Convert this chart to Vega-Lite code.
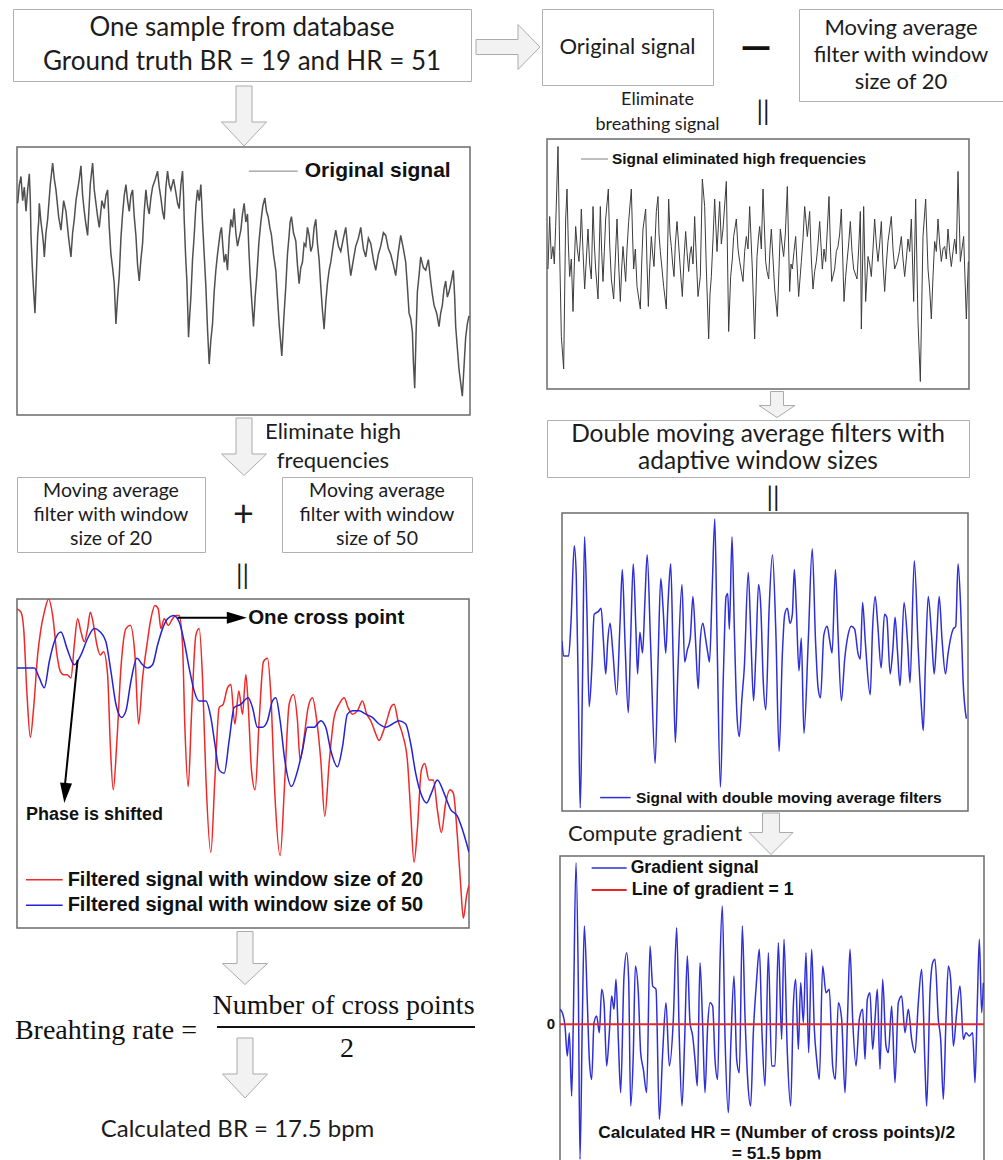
{
  "$schema": "https://vega.github.io/schema/vega-lite/v6.json",
  "padding": 0,
  "background": "white",
  "usermeta": {"embedOptions": {"actions": false}},
  "config": {"view": {"stroke": null}, "concat": {"spacing": 0}},
  "spacing": 0,
  "datasets": {
    "orig": [{"t":2,"v":79},{"t":7,"v":86},{"t":12,"v":89},{"t":17,"v":80},{"t":22,"v":85},{"t":27,"v":76},{"t":32,"v":84},{"t":37,"v":90},{"t":40,"v":80},{"t":42,"v":67},{"t":46,"v":55},{"t":50,"v":46},{"t":52,"v":42},{"t":54,"v":38},{"t":58,"v":52},{"t":62,"v":67},{"t":65,"v":72},{"t":67,"v":79},{"t":72,"v":72},{"t":77,"v":67},{"t":80,"v":63},{"t":82,"v":59},{"t":87,"v":68},{"t":92,"v":73},{"t":100,"v":86},{"t":107,"v":94},{"t":112,"v":88},{"t":117,"v":84},{"t":125,"v":74},{"t":132,"v":69},{"t":140,"v":80},{"t":147,"v":76},{"t":155,"v":66},{"t":162,"v":59},{"t":167,"v":68},{"t":172,"v":73},{"t":177,"v":80},{"t":182,"v":84},{"t":187,"v":88},{"t":192,"v":93},{"t":197,"v":82},{"t":202,"v":76},{"t":207,"v":71},{"t":212,"v":67},{"t":220,"v":86},{"t":227,"v":94},{"t":232,"v":84},{"t":237,"v":79},{"t":242,"v":74},{"t":247,"v":70},{"t":255,"v":80},{"t":262,"v":77},{"t":267,"v":82},{"t":272,"v":84},{"t":277,"v":70},{"t":282,"v":60},{"t":287,"v":55},{"t":292,"v":49},{"t":295,"v":40},{"t":297,"v":34},{"t":302,"v":44},{"t":307,"v":52},{"t":312,"v":66},{"t":317,"v":75},{"t":322,"v":82},{"t":327,"v":86},{"t":332,"v":80},{"t":337,"v":76},{"t":342,"v":82},{"t":347,"v":84},{"t":352,"v":74},{"t":357,"v":67},{"t":362,"v":56},{"t":367,"v":50},{"t":372,"v":58},{"t":377,"v":64},{"t":382,"v":76},{"t":387,"v":84},{"t":392,"v":78},{"t":397,"v":75},{"t":402,"v":81},{"t":407,"v":85},{"t":415,"v":88},{"t":422,"v":91},{"t":427,"v":85},{"t":432,"v":81},{"t":437,"v":76},{"t":442,"v":73},{"t":447,"v":85},{"t":452,"v":91},{"t":457,"v":86},{"t":462,"v":84},{"t":470,"v":88},{"t":477,"v":83},{"t":482,"v":79},{"t":487,"v":77},{"t":492,"v":86},{"t":497,"v":91},{"t":500,"v":82},{"t":502,"v":73},{"t":506,"v":60},{"t":510,"v":50},{"t":513,"v":38},{"t":515,"v":29},{"t":518,"v":36},{"t":522,"v":44},{"t":527,"v":58},{"t":532,"v":67},{"t":537,"v":78},{"t":542,"v":84},{"t":547,"v":80},{"t":552,"v":86},{"t":555,"v":78},{"t":557,"v":72},{"t":562,"v":60},{"t":567,"v":48},{"t":572,"v":32},{"t":577,"v":19},{"t":582,"v":28},{"t":587,"v":34},{"t":592,"v":46},{"t":597,"v":54},{"t":602,"v":60},{"t":607,"v":65},{"t":610,"v":68},{"t":614,"v":70},{"t":618,"v":63},{"t":622,"v":57},{"t":627,"v":60},{"t":632,"v":54},{"t":637,"v":66},{"t":642,"v":73},{"t":647,"v":70},{"t":652,"v":77},{"t":657,"v":68},{"t":662,"v":63},{"t":667,"v":66},{"t":672,"v":69},{"t":677,"v":75},{"t":682,"v":79},{"t":687,"v":72},{"t":692,"v":75},{"t":696,"v":62},{"t":700,"v":52},{"t":705,"v":42},{"t":710,"v":33},{"t":715,"v":44},{"t":720,"v":52},{"t":726,"v":64},{"t":732,"v":72},{"t":738,"v":78},{"t":744,"v":81},{"t":749,"v":76},{"t":754,"v":74},{"t":759,"v":70},{"t":764,"v":67},{"t":770,"v":60},{"t":777,"v":54},{"t":782,"v":44},{"t":787,"v":34},{"t":791,"v":28},{"t":795,"v":22},{"t":801,"v":36},{"t":807,"v":48},{"t":812,"v":60},{"t":817,"v":67},{"t":820,"v":72},{"t":824,"v":74},{"t":830,"v":68},{"t":837,"v":65},{"t":842,"v":56},{"t":847,"v":49},{"t":852,"v":55},{"t":857,"v":57},{"t":862,"v":64},{"t":867,"v":63},{"t":872,"v":70},{"t":877,"v":67},{"t":882,"v":61},{"t":887,"v":63},{"t":892,"v":70},{"t":897,"v":73},{"t":902,"v":64},{"t":907,"v":58},{"t":912,"v":48},{"t":917,"v":39},{"t":920,"v":35},{"t":922,"v":32},{"t":927,"v":42},{"t":932,"v":49},{"t":937,"v":54},{"t":942,"v":57},{"t":950,"v":64},{"t":957,"v":69},{"t":965,"v":63},{"t":972,"v":61},{"t":980,"v":66},{"t":987,"v":70},{"t":995,"v":60},{"t":1002,"v":52},{"t":1010,"v":58},{"t":1017,"v":63},{"t":1025,"v":66},{"t":1032,"v":70},{"t":1040,"v":62},{"t":1047,"v":59},{"t":1055,"v":66},{"t":1062,"v":64},{"t":1070,"v":58},{"t":1077,"v":54},{"t":1085,"v":60},{"t":1092,"v":63},{"t":1100,"v":68},{"t":1107,"v":67},{"t":1115,"v":62},{"t":1122,"v":60},{"t":1130,"v":56},{"t":1137,"v":52},{"t":1145,"v":61},{"t":1152,"v":67},{"t":1160,"v":62},{"t":1167,"v":57},{"t":1172,"v":48},{"t":1177,"v":38},{"t":1182,"v":36},{"t":1187,"v":31},{"t":1190,"v":20},{"t":1194,"v":10},{"t":1198,"v":30},{"t":1202,"v":46},{"t":1207,"v":52},{"t":1212,"v":59},{"t":1220,"v":55},{"t":1227,"v":54},{"t":1235,"v":58},{"t":1242,"v":50},{"t":1247,"v":45},{"t":1252,"v":41},{"t":1260,"v":38},{"t":1267,"v":33},{"t":1272,"v":38},{"t":1277,"v":41},{"t":1282,"v":47},{"t":1287,"v":50},{"t":1292,"v":44},{"t":1297,"v":46},{"t":1304,"v":50},{"t":1310,"v":54},{"t":1314,"v":44},{"t":1317,"v":33},{"t":1322,"v":25},{"t":1327,"v":17},{"t":1332,"v":12},{"t":1337,"v":7},{"t":1342,"v":18},{"t":1347,"v":29},{"t":1352,"v":34},{"t":1357,"v":37}],
    "eh": [{"t":3,"v":48},{"t":8,"v":69},{"t":13,"v":52},{"t":18,"v":57},{"t":22,"v":50},{"t":26,"v":65},{"t":33,"v":97},{"t":38,"v":55},{"t":43,"v":21},{"t":50,"v":8},{"t":56,"v":68},{"t":60,"v":80},{"t":64,"v":58},{"t":68,"v":45},{"t":73,"v":52},{"t":78,"v":31},{"t":82,"v":50},{"t":86,"v":65},{"t":91,"v":56},{"t":96,"v":51},{"t":100,"v":60},{"t":103,"v":72},{"t":108,"v":55},{"t":113,"v":40},{"t":118,"v":52},{"t":123,"v":64},{"t":128,"v":50},{"t":133,"v":44},{"t":138,"v":73},{"t":142,"v":58},{"t":146,"v":48},{"t":153,"v":36},{"t":160,"v":73},{"t":164,"v":55},{"t":168,"v":43},{"t":172,"v":55},{"t":176,"v":68},{"t":184,"v":80},{"t":188,"v":58},{"t":193,"v":44},{"t":200,"v":36},{"t":205,"v":52},{"t":210,"v":68},{"t":215,"v":50},{"t":220,"v":35},{"t":224,"v":48},{"t":228,"v":57},{"t":236,"v":43},{"t":240,"v":56},{"t":245,"v":67},{"t":253,"v":80},{"t":257,"v":60},{"t":260,"v":48},{"t":265,"v":56},{"t":270,"v":41},{"t":280,"v":32},{"t":284,"v":50},{"t":288,"v":64},{"t":296,"v":72},{"t":300,"v":50},{"t":304,"v":33},{"t":308,"v":48},{"t":313,"v":61},{"t":317,"v":54},{"t":321,"v":49},{"t":328,"v":71},{"t":333,"v":77},{"t":336,"v":62},{"t":340,"v":55},{"t":345,"v":48},{"t":350,"v":41},{"t":358,"v":32},{"t":365,"v":76},{"t":369,"v":62},{"t":373,"v":57},{"t":377,"v":50},{"t":381,"v":45},{"t":385,"v":58},{"t":390,"v":67},{"t":398,"v":52},{"t":402,"v":44},{"t":406,"v":37},{"t":411,"v":52},{"t":416,"v":63},{"t":420,"v":55},{"t":425,"v":47},{"t":429,"v":54},{"t":433,"v":57},{"t":438,"v":50},{"t":443,"v":69},{"t":448,"v":52},{"t":453,"v":37},{"t":460,"v":45},{"t":466,"v":84},{"t":473,"v":73},{"t":478,"v":48},{"t":485,"v":20},{"t":489,"v":38},{"t":493,"v":45},{"t":498,"v":60},{"t":503,"v":76},{"t":510,"v":55},{"t":518,"v":75},{"t":523,"v":58},{"t":528,"v":64},{"t":538,"v":83},{"t":545,"v":23},{"t":551,"v":45},{"t":556,"v":52},{"t":560,"v":61},{"t":568,"v":68},{"t":573,"v":56},{"t":578,"v":51},{"t":583,"v":47},{"t":588,"v":43},{"t":593,"v":55},{"t":598,"v":61},{"t":603,"v":56},{"t":608,"v":73},{"t":616,"v":48},{"t":623,"v":20},{"t":630,"v":53},{"t":634,"v":60},{"t":638,"v":65},{"t":643,"v":56},{"t":648,"v":80},{"t":656,"v":51},{"t":660,"v":47},{"t":665,"v":44},{"t":669,"v":56},{"t":673,"v":64},{"t":678,"v":52},{"t":683,"v":40},{"t":691,"v":29},{"t":696,"v":48},{"t":700,"v":64},{"t":705,"v":58},{"t":710,"v":53},{"t":715,"v":62},{"t":721,"v":81},{"t":728,"v":39},{"t":732,"v":50},{"t":736,"v":48},{"t":741,"v":55},{"t":746,"v":61},{"t":750,"v":50},{"t":755,"v":37},{"t":763,"v":51},{"t":768,"v":60},{"t":773,"v":73},{"t":781,"v":61},{"t":788,"v":71},{"t":793,"v":52},{"t":798,"v":40},{"t":803,"v":47},{"t":808,"v":51},{"t":813,"v":58},{"t":818,"v":67},{"t":826,"v":48},{"t":831,"v":56},{"t":836,"v":51},{"t":846,"v":77},{"t":850,"v":58},{"t":854,"v":43},{"t":863,"v":48},{"t":868,"v":55},{"t":873,"v":57},{"t":878,"v":62},{"t":883,"v":72},{"t":891,"v":35},{"t":896,"v":45},{"t":900,"v":51},{"t":905,"v":58},{"t":910,"v":67},{"t":915,"v":55},{"t":920,"v":48},{"t":930,"v":44},{"t":935,"v":56},{"t":940,"v":71},{"t":943,"v":24},{"t":950,"v":73},{"t":956,"v":35},{"t":963,"v":53},{"t":968,"v":50},{"t":973,"v":45},{"t":978,"v":56},{"t":983,"v":68},{"t":988,"v":58},{"t":993,"v":51},{"t":998,"v":58},{"t":1003,"v":67},{"t":1008,"v":50},{"t":1013,"v":39},{"t":1018,"v":50},{"t":1023,"v":59},{"t":1033,"v":69},{"t":1038,"v":56},{"t":1043,"v":48},{"t":1051,"v":51},{"t":1057,"v":55},{"t":1063,"v":61},{"t":1068,"v":52},{"t":1073,"v":45},{"t":1078,"v":52},{"t":1083,"v":60},{"t":1088,"v":55},{"t":1093,"v":68},{"t":1100,"v":35},{"t":1106,"v":76},{"t":1113,"v":27},{"t":1120,"v":3},{"t":1128,"v":61},{"t":1136,"v":76},{"t":1143,"v":48},{"t":1148,"v":40},{"t":1153,"v":28},{"t":1158,"v":45},{"t":1163,"v":59},{"t":1168,"v":55},{"t":1173,"v":68},{"t":1178,"v":58},{"t":1183,"v":51},{"t":1188,"v":56},{"t":1193,"v":57},{"t":1198,"v":52},{"t":1203,"v":64},{"t":1208,"v":55},{"t":1213,"v":49},{"t":1218,"v":55},{"t":1223,"v":60},{"t":1228,"v":54},{"t":1233,"v":87},{"t":1240,"v":51},{"t":1245,"v":56},{"t":1250,"v":61},{"t":1258,"v":28},{"t":1264,"v":51}],
    "red20": [{"t":0,"v":97},{"t":12,"v":96},{"t":20,"v":91},{"t":30,"v":71},{"t":40,"v":58},{"t":50,"v":67},{"t":62,"v":83},{"t":72,"v":91},{"t":82,"v":96},{"t":95,"v":100},{"t":107,"v":95},{"t":120,"v":83},{"t":130,"v":78},{"t":140,"v":77},{"t":150,"v":77},{"t":162,"v":76},{"t":172,"v":86},{"t":182,"v":94},{"t":192,"v":90},{"t":202,"v":87},{"t":212,"v":91},{"t":220,"v":96},{"t":230,"v":92},{"t":240,"v":86},{"t":250,"v":83},{"t":260,"v":84},{"t":272,"v":77},{"t":280,"v":56},{"t":289,"v":42},{"t":300,"v":57},{"t":312,"v":79},{"t":327,"v":91},{"t":340,"v":92},{"t":354,"v":83},{"t":365,"v":62},{"t":377,"v":76},{"t":390,"v":86},{"t":402,"v":94},{"t":414,"v":98},{"t":424,"v":97},{"t":432,"v":91},{"t":442,"v":94},{"t":454,"v":92},{"t":467,"v":94},{"t":477,"v":95},{"t":487,"v":95},{"t":497,"v":86},{"t":504,"v":61},{"t":514,"v":43},{"t":524,"v":65},{"t":537,"v":89},{"t":547,"v":91},{"t":557,"v":76},{"t":567,"v":46},{"t":582,"v":23},{"t":594,"v":45},{"t":607,"v":67},{"t":619,"v":68},{"t":632,"v":73},{"t":642,"v":74},{"t":654,"v":62},{"t":666,"v":72},{"t":677,"v":65},{"t":687,"v":77},{"t":694,"v":68},{"t":704,"v":48},{"t":715,"v":42},{"t":727,"v":63},{"t":740,"v":81},{"t":752,"v":82},{"t":762,"v":71},{"t":774,"v":41},{"t":790,"v":22},{"t":804,"v":45},{"t":817,"v":68},{"t":830,"v":71},{"t":842,"v":63},{"t":850,"v":51},{"t":862,"v":58},{"t":874,"v":67},{"t":887,"v":70},{"t":900,"v":63},{"t":912,"v":51},{"t":924,"v":34},{"t":937,"v":50},{"t":952,"v":64},{"t":967,"v":68},{"t":982,"v":70},{"t":994,"v":67},{"t":1007,"v":65},{"t":1022,"v":66},{"t":1037,"v":69},{"t":1050,"v":65},{"t":1062,"v":63},{"t":1077,"v":59},{"t":1087,"v":57},{"t":1097,"v":59},{"t":1110,"v":63},{"t":1122,"v":67},{"t":1132,"v":68},{"t":1144,"v":63},{"t":1157,"v":59},{"t":1172,"v":51},{"t":1182,"v":35},{"t":1192,"v":20},{"t":1202,"v":30},{"t":1214,"v":48},{"t":1224,"v":50},{"t":1237,"v":45},{"t":1250,"v":45},{"t":1262,"v":36},{"t":1274,"v":29},{"t":1287,"v":38},{"t":1300,"v":42},{"t":1310,"v":41},{"t":1322,"v":28},{"t":1332,"v":13},{"t":1340,"v":3},{"t":1350,"v":10},{"t":1357,"v":13}],
    "blue50": [{"t":0,"v":79},{"t":52,"v":79},{"t":67,"v":76},{"t":82,"v":73},{"t":97,"v":81},{"t":112,"v":87},{"t":132,"v":90},{"t":150,"v":85},{"t":172,"v":80},{"t":192,"v":83},{"t":212,"v":88},{"t":232,"v":91},{"t":250,"v":90},{"t":267,"v":87},{"t":282,"v":78},{"t":297,"v":68},{"t":314,"v":64},{"t":327,"v":66},{"t":342,"v":75},{"t":360,"v":82},{"t":377,"v":80},{"t":392,"v":79},{"t":407,"v":80},{"t":422,"v":86},{"t":437,"v":91},{"t":452,"v":94},{"t":470,"v":95},{"t":487,"v":93},{"t":502,"v":87},{"t":517,"v":79},{"t":532,"v":72},{"t":547,"v":69},{"t":567,"v":69},{"t":582,"v":64},{"t":594,"v":56},{"t":607,"v":48},{"t":622,"v":47},{"t":637,"v":57},{"t":652,"v":67},{"t":672,"v":68},{"t":694,"v":70},{"t":707,"v":67},{"t":722,"v":61},{"t":737,"v":61},{"t":752,"v":63},{"t":767,"v":69},{"t":777,"v":70},{"t":790,"v":63},{"t":804,"v":51},{"t":824,"v":43},{"t":840,"v":47},{"t":857,"v":54},{"t":872,"v":61},{"t":892,"v":61},{"t":912,"v":63},{"t":927,"v":61},{"t":942,"v":54},{"t":962,"v":49},{"t":977,"v":55},{"t":992,"v":65},{"t":1007,"v":66},{"t":1027,"v":66},{"t":1047,"v":65},{"t":1067,"v":64},{"t":1087,"v":62},{"t":1107,"v":61},{"t":1127,"v":62},{"t":1147,"v":63},{"t":1167,"v":62},{"t":1182,"v":56},{"t":1197,"v":47},{"t":1212,"v":41},{"t":1230,"v":38},{"t":1244,"v":41},{"t":1262,"v":45},{"t":1282,"v":41},{"t":1302,"v":36},{"t":1322,"v":34},{"t":1337,"v":30},{"t":1357,"v":23}],
    "dma": [{"t":0,"v":57},{"t":5,"v":52},{"t":20,"v":52},{"t":27,"v":63},{"t":37,"v":89},{"t":43,"v":79},{"t":50,"v":34},{"t":55,"v":1},{"t":62,"v":45},{"t":68,"v":92},{"t":75,"v":68},{"t":82,"v":35},{"t":90,"v":48},{"t":97,"v":66},{"t":110,"v":67},{"t":118,"v":68},{"t":125,"v":57},{"t":132,"v":46},{"t":138,"v":57},{"t":145,"v":63},{"t":153,"v":54},{"t":165,"v":39},{"t":175,"v":63},{"t":182,"v":81},{"t":190,"v":57},{"t":200,"v":33},{"t":207,"v":57},{"t":215,"v":83},{"t":223,"v":61},{"t":228,"v":46},{"t":235,"v":60},{"t":243,"v":53},{"t":250,"v":70},{"t":257,"v":86},{"t":267,"v":57},{"t":281,"v":16},{"t":290,"v":51},{"t":298,"v":78},{"t":305,"v":68},{"t":313,"v":53},{"t":320,"v":70},{"t":328,"v":83},{"t":335,"v":53},{"t":342,"v":23},{"t":350,"v":48},{"t":362,"v":76},{"t":370,"v":50},{"t":378,"v":54},{"t":387,"v":58},{"t":395,"v":72},{"t":403,"v":57},{"t":411,"v":41},{"t":417,"v":57},{"t":425,"v":63},{"t":433,"v":58},{"t":440,"v":53},{"t":445,"v":50},{"t":453,"v":74},{"t":461,"v":98},{"t":468,"v":57},{"t":478,"v":8},{"t":487,"v":46},{"t":495,"v":72},{"t":500,"v":73},{"t":505,"v":61},{"t":513,"v":92},{"t":520,"v":61},{"t":528,"v":32},{"t":535,"v":25},{"t":543,"v":38},{"t":550,"v":48},{"t":562,"v":80},{"t":570,"v":58},{"t":578,"v":37},{"t":585,"v":53},{"t":593,"v":76},{"t":600,"v":68},{"t":607,"v":44},{"t":615,"v":34},{"t":625,"v":68},{"t":635,"v":86},{"t":645,"v":61},{"t":655,"v":20},{"t":665,"v":53},{"t":672,"v":66},{"t":680,"v":68},{"t":688,"v":63},{"t":695,"v":66},{"t":701,"v":81},{"t":707,"v":68},{"t":715,"v":47},{"t":722,"v":58},{"t":730,"v":26},{"t":743,"v":57},{"t":755,"v":88},{"t":765,"v":57},{"t":773,"v":41},{"t":780,"v":38},{"t":790,"v":59},{"t":800,"v":62},{"t":808,"v":57},{"t":815,"v":53},{"t":825,"v":81},{"t":833,"v":59},{"t":843,"v":37},{"t":853,"v":51},{"t":863,"v":59},{"t":873,"v":62},{"t":883,"v":61},{"t":893,"v":53},{"t":900,"v":51},{"t":907,"v":70},{"t":915,"v":57},{"t":930,"v":39},{"t":937,"v":61},{"t":945,"v":72},{"t":953,"v":62},{"t":963,"v":48},{"t":973,"v":66},{"t":980,"v":65},{"t":990,"v":46},{"t":998,"v":54},{"t":1005,"v":65},{"t":1012,"v":54},{"t":1020,"v":42},{"t":1032,"v":70},{"t":1043,"v":56},{"t":1050,"v":43},{"t":1063,"v":84},{"t":1075,"v":54},{"t":1085,"v":34},{"t":1090,"v":27},{"t":1097,"v":51},{"t":1105,"v":72},{"t":1115,"v":59},{"t":1123,"v":46},{"t":1130,"v":57},{"t":1138,"v":72},{"t":1147,"v":57},{"t":1157,"v":46},{"t":1165,"v":53},{"t":1180,"v":61},{"t":1188,"v":62},{"t":1195,"v":83},{"t":1203,"v":68},{"t":1210,"v":44},{"t":1220,"v":31}],
    "grad": [{"t":0,"v":9},{"t":7,"v":7},{"t":15,"v":-1},{"t":22,"v":-19},{"t":28,"v":-5},{"t":35,"v":-43},{"t":40,"v":3},{"t":48,"v":97},{"t":55,"v":23},{"t":60,"v":-81},{"t":67,"v":3},{"t":73,"v":59},{"t":82,"v":13},{"t":88,"v":-21},{"t":95,"v":-33},{"t":102,"v":1},{"t":110,"v":5},{"t":118,"v":-5},{"t":125,"v":21},{"t":132,"v":13},{"t":140,"v":-25},{"t":148,"v":-5},{"t":155,"v":17},{"t":162,"v":9},{"t":168,"v":27},{"t":175,"v":-9},{"t":182,"v":-41},{"t":192,"v":29},{"t":200,"v":43},{"t":206,"v":27},{"t":212,"v":-49},{"t":220,"v":-17},{"t":226,"v":35},{"t":235,"v":19},{"t":242,"v":-17},{"t":250,"v":-27},{"t":260,"v":-41},{"t":270,"v":47},{"t":278,"v":23},{"t":288,"v":21},{"t":298,"v":-57},{"t":308,"v":-17},{"t":318,"v":13},{"t":328,"v":-25},{"t":340,"v":3},{"t":350,"v":58},{"t":358,"v":-9},{"t":366,"v":-49},{"t":374,"v":-9},{"t":382,"v":41},{"t":390,"v":1},{"t":398,"v":-7},{"t":405,"v":-21},{"t":412,"v":-37},{"t":420,"v":37},{"t":428,"v":-1},{"t":435,"v":-41},{"t":443,"v":-1},{"t":450,"v":13},{"t":458,"v":11},{"t":465,"v":-21},{"t":473,"v":-33},{"t":480,"v":37},{"t":487,"v":71},{"t":495,"v":-7},{"t":505,"v":-53},{"t":513,"v":-9},{"t":522,"v":29},{"t":530,"v":-21},{"t":538,"v":-29},{"t":547,"v":59},{"t":555,"v":5},{"t":563,"v":-33},{"t":572,"v":-49},{"t":580,"v":-5},{"t":590,"v":27},{"t":598,"v":45},{"t":606,"v":-5},{"t":615,"v":-37},{"t":625,"v":43},{"t":635,"v":-25},{"t":645,"v":-25},{"t":655,"v":49},{"t":665,"v":-9},{"t":672,"v":51},{"t":682,"v":-17},{"t":692,"v":-49},{"t":700,"v":11},{"t":707,"v":27},{"t":715,"v":-15},{"t":722,"v":25},{"t":730,"v":1},{"t":738,"v":43},{"t":746,"v":-17},{"t":755,"v":45},{"t":763,"v":-3},{"t":770,"v":-21},{"t":778,"v":-33},{"t":788,"v":35},{"t":798,"v":19},{"t":808,"v":21},{"t":818,"v":-25},{"t":826,"v":-33},{"t":835,"v":13},{"t":845,"v":3},{"t":855,"v":-41},{"t":863,"v":7},{"t":870,"v":45},{"t":878,"v":3},{"t":888,"v":-25},{"t":898,"v":3},{"t":908,"v":9},{"t":915,"v":-21},{"t":922,"v":15},{"t":930,"v":19},{"t":938,"v":-15},{"t":945,"v":3},{"t":952,"v":21},{"t":960,"v":-27},{"t":968,"v":27},{"t":978,"v":-13},{"t":985,"v":-17},{"t":995,"v":11},{"t":1005,"v":-35},{"t":1015,"v":13},{"t":1025,"v":17},{"t":1035,"v":-5},{"t":1045,"v":9},{"t":1055,"v":-9},{"t":1065,"v":-17},{"t":1075,"v":13},{"t":1085,"v":33},{"t":1095,"v":-25},{"t":1100,"v":-49},{"t":1110,"v":19},{"t":1118,"v":37},{"t":1125,"v":39},{"t":1135,"v":3},{"t":1142,"v":-9},{"t":1150,"v":-45},{"t":1158,"v":3},{"t":1165,"v":35},{"t":1172,"v":27},{"t":1180,"v":-13},{"t":1190,"v":7},{"t":1200,"v":23},{"t":1210,"v":-9},{"t":1218,"v":-5},{"t":1228,"v":-7},{"t":1238,"v":-5},{"t":1245,"v":-35},{"t":1252,"v":13},{"t":1258,"v":51},{"t":1265,"v":7},{"t":1270,"v":25}]
  },
  "hconcat": [
    {
      "spacing": 0,
      "vconcat": [
        {"width": 475, "height": 8, "data": {"values": []}, "mark": "point"},
        {"spacing": 0, "hconcat": [
          {"width": 12, "height": 72, "data": {"values": []}, "mark": "point"},
          {"width": 458, "height": 72, "view": {"stroke": "#b0b0b0"}, "data": {"values": [{"t": "One sample from database\nGround truth BR = 19 and HR = 51"}]},
           "mark": {"type": "text", "font": "Lato", "fontSize": 26, "lineHeight": 34, "lineBreak": "\n", "dy": -17, "color": "#1c1c1c", "clip": true},
           "encoding": {"text": {"field": "t", "type": "nominal"}}}
        ]},
        {"spacing": 0, "hconcat": [
          {"width": 221, "height": 64, "data": {"values": []}, "mark": "point"},
          {"width": 46, "height": 64, "data": {"values": [{"k": 1}]},
           "mark": {"type": "point", "shape": "M-8,-28L8,-28L8,8L22.5,8L0,32L-22.5,8L-8,8Z", "size": 4, "filled": true, "fill": "#f2f2f2", "stroke": "#ababab", "strokeWidth": 1, "opacity": 1, "clip": true}}
        ]},
        {"spacing": 0, "hconcat": [
          {"width": 16, "height": 268, "data": {"values": []}, "mark": "point"},
          {"width": 453, "height": 268, "view": {"stroke": "#6b6b6b", "strokeWidth": 1.5},
           "layer": [
             {"data": {"name": "orig"}, "mark": {"type": "line", "color": "#505050", "strokeWidth": 1.5, "clip": true},
              "encoding": {"x": {"field": "t", "type": "quantitative", "scale": {"domain": [0, 1360], "nice": false, "zero": false}, "axis": null},
                           "y": {"field": "v", "type": "quantitative", "scale": {"domain": [0, 100], "nice": false, "zero": false}, "axis": null}}},
             {"data": {"values": [{}]}, "mark": {"type": "rule", "color": "#808080", "strokeWidth": 1},
              "encoding": {"x": {"datum": 696, "axis": null}, "x2": {"datum": 843}, "y": {"datum": 91, "axis": null}}},
             {"data": {"values": [{"label": "Original signal"}]}, "mark": {"type": "text", "align": "left", "font": "Liberation Sans", "fontWeight": "bold", "fontSize": 21, "color": "#111111", "clip": true},
              "encoding": {"x": {"datum": 864, "axis": null}, "y": {"datum": 91, "axis": null}, "text": {"field": "label", "type": "nominal"}}}
           ]}
        ]},
        {"spacing": 0, "hconcat": [
          {"width": 221, "height": 60, "data": {"values": []}, "mark": "point"},
          {"width": 46, "height": 60, "data": {"values": [{"k": 1}]},
           "mark": {"type": "point", "shape": "M-8,-28L8,-28L8,8L22.5,8L0,29.5L-22.5,8L-8,8Z", "size": 4, "filled": true, "fill": "#f2f2f2", "stroke": "#ababab", "strokeWidth": 1, "opacity": 1, "clip": true}},
          {"width": 150, "height": 60, "data": {"values": [{"t": "Eliminate high\nfrequencies"}]},
           "mark": {"type": "text", "font": "Lato", "fontSize": 22, "lineHeight": 29, "lineBreak": "\n", "dy": -14.5, "dx": -9, "color": "#1c1c1c", "clip": true},
           "encoding": {"text": {"field": "t", "type": "nominal"}}}
        ]},
        {"spacing": 0, "hconcat": [
          {"width": 16, "height": 75, "data": {"values": []}, "mark": "point"},
          {"width": 188, "height": 75, "view": {"stroke": "#b0b0b0"}, "data": {"values": [{"t": "Moving average\nfilter with window\nsize of 20"}]},
           "mark": {"type": "text", "font": "Lato", "fontSize": 19.5, "lineHeight": 24, "lineBreak": "\n", "dy": -24, "color": "#1c1c1c", "clip": true},
           "encoding": {"text": {"field": "t", "type": "nominal"}}},
          {"width": 75, "height": 75, "data": {"values": [{"t": "+"}]},
           "mark": {"type": "text", "font": "Lato", "fontSize": 36, "color": "#1c1c1c", "clip": true},
           "encoding": {"text": {"field": "t", "type": "nominal"}}},
          {"width": 190, "height": 75, "view": {"stroke": "#b0b0b0"}, "data": {"values": [{"t": "Moving average\nfilter with window\nsize of 50"}]},
           "mark": {"type": "text", "font": "Lato", "fontSize": 19.5, "lineHeight": 24, "lineBreak": "\n", "dy": -24, "color": "#1c1c1c", "clip": true},
           "encoding": {"text": {"field": "t", "type": "nominal"}}}
        ]},
        {"spacing": 0, "hconcat": [
          {"width": 16, "height": 45, "data": {"values": []}, "mark": "point"},
          {"width": 453, "height": 45, "data": {"values": [{"t": "||"}]},
           "mark": {"type": "text", "font": "Lato", "fontSize": 26, "color": "#1c1c1c", "clip": true},
           "encoding": {"text": {"field": "t", "type": "nominal"}}}
        ]},
        {"spacing": 0, "hconcat": [
          {"width": 16, "height": 329, "data": {"values": []}, "mark": "point"},
          {"width": 452, "height": 329, "view": {"stroke": "#6b6b6b", "strokeWidth": 1.5},
           "layer": [
             {"data": {"name": "red20"}, "mark": {"type": "line", "color": "#f02828", "strokeWidth": 1.5, "interpolate": "monotone", "clip": true},
              "encoding": {"x": {"field": "t", "type": "quantitative", "scale": {"domain": [0, 1357], "nice": false, "zero": false}, "axis": null},
                           "y": {"field": "v", "type": "quantitative", "scale": {"domain": [0, 100], "nice": false, "zero": false}, "axis": null}}},
             {"data": {"name": "blue50"}, "mark": {"type": "line", "color": "#2323d6", "strokeWidth": 1.5, "interpolate": "monotone", "clip": true},
              "encoding": {"x": {"field": "t", "type": "quantitative", "axis": null}, "y": {"field": "v", "type": "quantitative", "axis": null}}},
             {"data": {"values": [{}]}, "mark": {"type": "rule", "color": "#000000", "strokeWidth": 2},
              "encoding": {"x": {"datum": 482, "axis": null}, "x2": {"datum": 675}, "y": {"datum": 94.3, "axis": null}}},
             {"data": {"values": [{}]}, "mark": {"type": "point", "shape": "M0,0L-20,-6L-20,6Z", "size": 4, "filled": true, "color": "#000000", "opacity": 1},
              "encoding": {"x": {"datum": 690, "axis": null}, "y": {"datum": 94.3, "axis": null}}},
             {"data": {"values": [{"label": "One cross point"}]}, "mark": {"type": "text", "align": "left", "font": "Liberation Sans", "fontWeight": "bold", "fontSize": 20.5, "color": "#111111", "clip": true},
              "encoding": {"x": {"datum": 694, "axis": null}, "y": {"datum": 94.3, "axis": null}, "text": {"field": "label", "type": "nominal"}}},
             {"data": {"values": [{}]}, "mark": {"type": "rule", "color": "#000000", "strokeWidth": 2},
              "encoding": {"x": {"datum": 182, "axis": null}, "y": {"datum": 81.5, "axis": null}, "x2": {"datum": 144.5}, "y2": {"datum": 44}}},
             {"data": {"values": [{}]}, "mark": {"type": "point", "shape": "M0,0L-6,-20L6,-20Z", "size": 4, "angle": 5, "filled": true, "color": "#000000", "opacity": 1},
              "encoding": {"x": {"datum": 142, "axis": null}, "y": {"datum": 38, "axis": null}}},
             {"data": {"values": [{"label": "Phase is shifted"}]}, "mark": {"type": "text", "align": "left", "font": "Liberation Sans", "fontWeight": "bold", "fontSize": 18, "color": "#111111", "clip": true},
              "encoding": {"x": {"datum": 27, "axis": null}, "y": {"datum": 34.4, "axis": null}, "text": {"field": "label", "type": "nominal"}}},
             {"data": {"values": [{}]}, "mark": {"type": "rule", "color": "#f02828", "strokeWidth": 1.5},
              "encoding": {"x": {"datum": 27, "axis": null}, "x2": {"datum": 137}, "y": {"datum": 14.7, "axis": null}}},
             {"data": {"values": [{"label": "Filtered signal with window size of 20"}]}, "mark": {"type": "text", "align": "left", "font": "Liberation Sans", "fontWeight": "bold", "fontSize": 20, "color": "#111111", "clip": true},
              "encoding": {"x": {"datum": 152, "axis": null}, "y": {"datum": 14.7, "axis": null}, "text": {"field": "label", "type": "nominal"}}},
             {"data": {"values": [{}]}, "mark": {"type": "rule", "color": "#2323d6", "strokeWidth": 1.5},
              "encoding": {"x": {"datum": 27, "axis": null}, "x2": {"datum": 137}, "y": {"datum": 6.9, "axis": null}}},
             {"data": {"values": [{"label": "Filtered signal with window size of 50"}]}, "mark": {"type": "text", "align": "left", "font": "Liberation Sans", "fontWeight": "bold", "fontSize": 20, "color": "#111111", "clip": true},
              "encoding": {"x": {"datum": 152, "axis": null}, "y": {"datum": 6.9, "axis": null}, "text": {"field": "label", "type": "nominal"}}}
           ]}
        ]},
        {"spacing": 0, "hconcat": [
          {"spacing": 0, "vconcat": [
            {"width": 212, "height": 82, "data": {"values": []}, "mark": "point"},
            {"width": 212, "height": 40, "data": {"values": [{"t": "Breahting rate ="}]},
             "mark": {"type": "text", "font": "Liberation Serif", "fontSize": 28, "color": "#111111", "clip": true},
             "encoding": {"text": {"field": "t", "type": "nominal"}}}
          ]},
          {"spacing": 0, "vconcat": [
            {"spacing": 0, "hconcat": [
              {"width": 10, "height": 57, "data": {"values": []}, "mark": "point"},
              {"width": 46, "height": 57, "data": {"values": [{"k": 1}]},
               "mark": {"type": "point", "shape": "M-8,-26L8,-26L8,6L22.5,6L0,27L-22.5,6L-8,6Z", "size": 4, "filled": true, "fill": "#f2f2f2", "stroke": "#ababab", "strokeWidth": 1, "opacity": 1, "clip": true}}
            ]},
            {"width": 263, "height": 40, "data": {"values": [{"t": "Number of cross points"}]},
             "mark": {"type": "text", "font": "Liberation Serif", "fontSize": 28, "color": "#111111", "clip": true},
             "encoding": {"text": {"field": "t", "type": "nominal"}}},
            {"spacing": 0, "hconcat": [
              {"width": 5, "height": 2, "data": {"values": []}, "mark": "point"},
              {"width": 258, "height": 2, "view": {"fill": "#111111", "stroke": null}, "data": {"values": []}, "mark": "point"}
            ]},
            {"spacing": 0, "hconcat": [
              {"width": 10, "height": 72, "data": {"values": []}, "mark": "point"},
              {"width": 46, "height": 72, "data": {"values": [{"k": 1}]},
               "mark": {"type": "point", "shape": "M-8,-26L8,-26L8,10L22.5,10L0,34L-22.5,10L-8,10Z", "size": 4, "filled": true, "fill": "#f2f2f2", "stroke": "#ababab", "strokeWidth": 1, "opacity": 1, "clip": true}},
              {"width": 158, "height": 42, "data": {"values": [{"t": "2"}]},
               "mark": {"type": "text", "font": "Liberation Serif", "fontSize": 28, "color": "#111111", "clip": true},
               "encoding": {"text": {"field": "t", "type": "nominal"}}}
            ]}
          ]}
        ]},
        {"width": 475, "height": 60, "data": {"values": [{"t": "Calculated BR = 17.5 bpm"}]},
         "mark": {"type": "text", "font": "Lato", "fontSize": 24, "color": "#1c1c1c", "clip": true},
         "encoding": {"text": {"field": "t", "type": "nominal"}}}
      ]
    },
    {
      "spacing": 0,
      "vconcat": [
        {"spacing": 0, "hconcat": [
          {"spacing": 0, "vconcat": [
            {"width": 321, "height": 8, "data": {"values": []}, "mark": "point"},
            {"spacing": 0, "hconcat": [
              {"width": 66, "height": 76, "data": {"values": [{"k": 1}]},
               "mark": {"type": "point", "shape": "M-32,-7.5L10,-7.5L10,-22.5L32,0L10,22.5L10,7.5L-32,7.5Z", "size": 4, "filled": true, "fill": "#f2f2f2", "stroke": "#ababab", "strokeWidth": 1, "opacity": 1, "clip": true}},
              {"width": 171, "height": 76, "view": {"stroke": "#b0b0b0"}, "data": {"values": [{"t": "Original signal"}]},
               "mark": {"type": "text", "font": "Lato", "fontSize": 22, "color": "#1c1c1c", "clip": true},
               "encoding": {"text": {"field": "t", "type": "nominal"}}},
              {"width": 84, "height": 76, "data": {"values": [{"t": "—"}]},
               "mark": {"type": "text", "font": "DejaVu Sans", "fontWeight": "bold", "fontSize": 30, "color": "#111111", "clip": true},
               "encoding": {"text": {"field": "t", "type": "nominal"}}}
            ]},
            {"spacing": 0, "hconcat": [
              {"width": 110, "height": 52, "data": {"values": []}, "mark": "point"},
              {"width": 145, "height": 52, "data": {"values": [{"t": "Eliminate\nbreathing signal"}]},
               "mark": {"type": "text", "font": "Lato", "fontSize": 18, "lineHeight": 25, "lineBreak": "\n", "dy": -12.5, "color": "#1c1c1c", "clip": true},
               "encoding": {"text": {"field": "t", "type": "nominal"}}},
              {"width": 66, "height": 52, "data": {"values": [{"t": "||"}]},
               "mark": {"type": "text", "font": "Lato", "fontSize": 26, "color": "#1c1c1c", "clip": true},
               "encoding": {"text": {"field": "t", "type": "nominal"}}}
            ]}
          ]},
          {"spacing": 0, "vconcat": [
            {"width": 207, "height": 8, "data": {"values": []}, "mark": "point"},
            {"width": 204, "height": 92, "view": {"stroke": "#b0b0b0"}, "data": {"values": [{"t": "Moving average\nfilter with window\nsize of 20"}]},
             "mark": {"type": "text", "font": "Lato", "fontSize": 22, "lineHeight": 27, "lineBreak": "\n", "dy": -27, "color": "#1c1c1c", "clip": true},
             "encoding": {"text": {"field": "t", "type": "nominal"}}}
          ]}
        ]},
        {"spacing": 0, "hconcat": [
          {"width": 71, "height": 250, "data": {"values": []}, "mark": "point"},
          {"width": 422, "height": 250, "view": {"stroke": "#6b6b6b", "strokeWidth": 1.5},
           "layer": [
             {"data": {"name": "eh"}, "mark": {"type": "line", "color": "#3c3c3c", "strokeWidth": 1, "clip": true},
              "encoding": {"x": {"field": "t", "type": "quantitative", "scale": {"domain": [0, 1266], "nice": false, "zero": false}, "axis": null},
                           "y": {"field": "v", "type": "quantitative", "scale": {"domain": [0, 100], "nice": false, "zero": false}, "axis": null}}},
             {"data": {"values": [{}]}, "mark": {"type": "rule", "color": "#808080", "strokeWidth": 1},
              "encoding": {"x": {"datum": 102, "axis": null}, "x2": {"datum": 183}, "y": {"datum": 92, "axis": null}}},
             {"data": {"values": [{"label": "Signal eliminated high frequencies"}]}, "mark": {"type": "text", "align": "left", "font": "Liberation Sans", "fontWeight": "bold", "fontSize": 15.4, "color": "#111111", "clip": true},
              "encoding": {"x": {"datum": 195, "axis": null}, "y": {"datum": 92, "axis": null}, "text": {"field": "label", "type": "nominal"}}}
           ]}
        ]},
        {"spacing": 0, "hconcat": [
          {"width": 283, "height": 29, "data": {"values": []}, "mark": "point"},
          {"width": 38, "height": 29, "data": {"values": [{"k": 1}]},
           "mark": {"type": "point", "shape": "M-6.5,-13L6.5,-13L6.5,1L18,1L0,13L-18,1L-6.5,1Z", "size": 4, "filled": true, "fill": "#f2f2f2", "stroke": "#ababab", "strokeWidth": 1, "opacity": 1, "clip": true}}
        ]},
        {"spacing": 0, "hconcat": [
          {"width": 71, "height": 57, "data": {"values": []}, "mark": "point"},
          {"width": 422, "height": 57, "view": {"stroke": "#b0b0b0"}, "data": {"values": [{"t": "Double moving average filters with\nadaptive window sizes"}]},
           "mark": {"type": "text", "font": "Lato", "fontSize": 24.5, "lineHeight": 27, "lineBreak": "\n", "dy": -13.5, "color": "#1c1c1c", "clip": true},
           "encoding": {"text": {"field": "t", "type": "nominal"}}}
        ]},
        {"spacing": 0, "hconcat": [
          {"width": 278, "height": 34, "data": {"values": []}, "mark": "point"},
          {"width": 40, "height": 34, "data": {"values": [{"t": "||"}]},
           "mark": {"type": "text", "font": "Lato", "fontSize": 26, "dy": 3, "color": "#1c1c1c", "clip": true},
           "encoding": {"text": {"field": "t", "type": "nominal"}}}
        ]},
        {"spacing": 0, "hconcat": [
          {"width": 86, "height": 298, "data": {"values": []}, "mark": "point"},
          {"width": 406, "height": 298, "view": {"stroke": "#6b6b6b", "strokeWidth": 1.5},
           "layer": [
             {"data": {"name": "dma"}, "mark": {"type": "line", "color": "#2f2fd8", "strokeWidth": 1.5, "interpolate": "monotone", "clip": true},
              "encoding": {"x": {"field": "t", "type": "quantitative", "scale": {"domain": [0, 1225], "nice": false, "zero": false}, "axis": null},
                           "y": {"field": "v", "type": "quantitative", "scale": {"domain": [0, 100], "nice": false, "zero": false}, "axis": null}}},
             {"data": {"values": [{}]}, "mark": {"type": "rule", "color": "#2f2fd8", "strokeWidth": 1.5},
              "encoding": {"x": {"datum": 115, "axis": null}, "x2": {"datum": 207}, "y": {"datum": 4.5, "axis": null}}},
             {"data": {"values": [{"label": "Signal with double moving average filters"}]}, "mark": {"type": "text", "align": "left", "font": "Liberation Sans", "fontWeight": "bold", "fontSize": 15.5, "color": "#111111", "clip": true},
              "encoding": {"x": {"datum": 223, "axis": null}, "y": {"datum": 4.5, "axis": null}, "text": {"field": "label", "type": "nominal"}}}
           ]}
        ]},
        {"spacing": 0, "hconcat": [
          {"width": 90, "height": 43, "data": {"values": []}, "mark": "point"},
          {"width": 180, "height": 43, "data": {"values": [{"t": "Compute gradient"}]},
           "mark": {"type": "text", "font": "Lato", "fontSize": 22, "color": "#1c1c1c", "clip": true},
           "encoding": {"text": {"field": "t", "type": "nominal"}}},
          {"width": 2, "height": 43, "data": {"values": []}, "mark": "point"},
          {"width": 48, "height": 43, "data": {"values": [{"k": 1}]},
           "mark": {"type": "point", "shape": "M-8.5,-20.5L8.5,-20.5L8.5,-1L22,-1L0,21L-22,-1L-8.5,-1Z", "size": 4, "filled": true, "fill": "#f2f2f2", "stroke": "#ababab", "strokeWidth": 1, "opacity": 1, "clip": true}}
        ]},
        {"spacing": 0, "hconcat": [
          {"width": 69, "height": 310, "data": {"values": []}, "mark": "point"},
          {"width": 14, "height": 310, "data": {"values": [{"label": "0"}]},
           "mark": {"type": "text", "font": "Liberation Sans", "fontWeight": "bold", "fontSize": 15, "color": "#111111", "clip": true},
           "encoding": {"y": {"datum": 0, "scale": {"domain": [-85, 101], "nice": false, "zero": false}, "axis": null}, "text": {"field": "label", "type": "nominal"}}},
          {"width": 424, "height": 310, "view": {"stroke": "#6b6b6b", "strokeWidth": 1.5},
           "layer": [
             {"data": {"values": [{"label": "Calculated HR = (Number of cross points)/2"}]}, "mark": {"type": "text", "font": "Liberation Sans", "fontWeight": "bold", "fontSize": 17.3, "color": "#111111", "clip": true},
              "encoding": {"x": {"datum": 650, "axis": null}, "y": {"datum": -65, "axis": null}, "text": {"field": "label", "type": "nominal"}}},
             {"data": {"values": [{"label": "= 51.5 bpm"}]}, "mark": {"type": "text", "font": "Liberation Sans", "fontWeight": "bold", "fontSize": 17.3, "color": "#111111", "clip": true},
              "encoding": {"x": {"datum": 650, "axis": null}, "y": {"datum": -78, "axis": null}, "text": {"field": "label", "type": "nominal"}}},
             {"data": {"name": "grad"}, "mark": {"type": "line", "color": "#2f2fd8", "strokeWidth": 1.5, "interpolate": "monotone", "clip": true},
              "encoding": {"x": {"field": "t", "type": "quantitative", "scale": {"domain": [0, 1272], "nice": false, "zero": false}, "axis": null},
                           "y": {"field": "v", "type": "quantitative", "scale": {"domain": [-85, 101], "nice": false, "zero": false}, "axis": null}}},
             {"data": {"values": [{}]}, "mark": {"type": "rule", "color": "#e8262a", "strokeWidth": 2},
              "encoding": {"y": {"datum": 0, "axis": null}}},
             {"data": {"values": [{}]}, "mark": {"type": "rule", "color": "#2f2fd8", "strokeWidth": 1.5},
              "encoding": {"x": {"datum": 95, "axis": null}, "x2": {"datum": 200}, "y": {"datum": 93.8, "axis": null}}},
             {"data": {"values": [{"label": "Gradient signal"}]}, "mark": {"type": "text", "align": "left", "font": "Liberation Sans", "fontWeight": "bold", "fontSize": 17.6, "color": "#111111", "clip": true},
              "encoding": {"x": {"datum": 212, "axis": null}, "y": {"datum": 93.8, "axis": null}, "text": {"field": "label", "type": "nominal"}}},
             {"data": {"values": [{}]}, "mark": {"type": "rule", "color": "#e8262a", "strokeWidth": 2},
              "encoding": {"x": {"datum": 95, "axis": null}, "x2": {"datum": 200}, "y": {"datum": 80.6, "axis": null}}},
             {"data": {"values": [{"label": "Line of gradient = 1"}]}, "mark": {"type": "text", "align": "left", "font": "Liberation Sans", "fontWeight": "bold", "fontSize": 17.6, "color": "#111111", "clip": true},
              "encoding": {"x": {"datum": 215, "axis": null}, "y": {"datum": 80.6, "axis": null}, "text": {"field": "label", "type": "nominal"}}}
           ]}
        ]}
      ]
    }
  ]
}
